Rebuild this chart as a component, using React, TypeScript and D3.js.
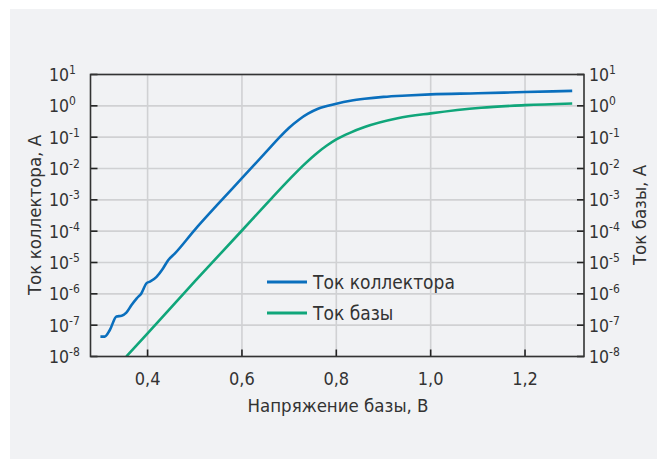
import React from "react";
import * as d3 from "d3";

// Base voltage (V) and collector current (A)
const collectorV = [0.300, 0.309, 0.320, 0.334, 0.345, 0.355, 0.366, 0.377, 0.387, 0.398, 0.405, 0.419, 0.433, 0.444, 0.458, 0.50, 0.55, 0.60, 0.66, 0.68, 0.70, 0.72, 0.74, 0.76, 0.78, 0.80, 0.83, 0.86, 0.90, 0.95, 1.0, 1.1, 1.2, 1.3];
const collectorI = [4.3e-8, 4.3e-8, 7e-8, 1.9e-7, 2.0e-7, 2.5e-7, 4.4e-7, 7.2e-7, 1.05e-6, 2.2e-6, 2.45e-6, 3.5e-6, 6.6e-6, 1.2e-5, 1.95e-5, 1.1e-4, 7.5e-4, 4.9e-3, 4.7e-2, 0.10, 0.20, 0.355, 0.56, 0.79, 0.98, 1.17, 1.45, 1.68, 1.93, 2.14, 2.32, 2.51, 2.75, 3.0];

// Base voltage (V) and base current (A)
const baseV = [0.355, 0.40, 0.50, 0.60, 0.65, 0.70, 0.73, 0.76, 0.78, 0.80, 0.83, 0.86, 0.93, 1.0, 1.107, 1.2, 1.3];
const baseI = [1.0e-8, 5.5e-8, 2.5e-6, 1.05e-4, 6.9e-4, 4.4e-3, 1.26e-2, 3.2e-2, 5.4e-2, 8.5e-2, 0.14, 0.21, 0.40, 0.575, 0.87, 1.05, 1.19];

const xTicks = [0.4, 0.6, 0.8, 1.0, 1.2];
const xTickLabels = ["0,4", "0,6", "0,8", "1,0", "1,2"];
const yExponents = [1, 0, -1, -2, -3, -4, -5, -6, -7, -8];

const seriesNames = ["Ток коллектора", "Ток базы"];
const xTitle = "Напряжение базы, В";
const yLeftTitle = "Ток коллектора, А";
const yRightTitle = "Ток базы, А";

const BLUE = "#0a6fbd";
const GREEN = "#10a67a";
const FONT = "'DejaVu Sans', sans-serif";
const COND = { fontStretch: "condensed" } as React.CSSProperties;

export default function App() {
  const W = 657, H = 459;
  const left = 90.5, right = 584, top = 74.5, bottom = 356.5;
  const x = d3.scaleLinear().domain([0.279, 1.325]).range([left, right]);
  const y = d3.scaleLog().domain([1e-8, 10]).range([bottom, top]);

  const line = d3
    .line<[number, number]>()
    .x((d) => x(d[0]))
    .y((d) => y(d[1]))
    .curve(d3.curveMonotoneX);

  const cData: [number, number][] = collectorV.map((v, i) => [v, collectorI[i]]);
  const bData: [number, number][] = baseV.map((v, i) => [v, baseI[i]]);

  const supLabel = (e: number, xx: number, yy: number, key: string) => (
    <text key={key} x={xx} y={yy} fontSize={17.5} fill="#333" fontFamily={FONT} style={COND}>
      10
      <tspan fontSize={12} dy={-7}>
        {e < 0 ? "-" + Math.abs(e) : String(e)}
      </tspan>
    </text>
  );

  return (
    <svg width={W} height={H} style={{ position: "absolute", left: 0, top: 0 }}>
      <defs>
        <clipPath id="plotclip">
          <rect x={left} y={top - 5} width={right - left} height={bottom - top + 5} />
        </clipPath>
      </defs>
      <rect x={10} y={9} width={647} height={450} fill="#f1f2f4" />
      {/* grid */}
      {xTicks.map((t) => (
        <line key={"gx" + t} x1={x(t)} x2={x(t)} y1={top} y2={bottom} stroke="#d0d1d3" strokeWidth={1.6} />
      ))}
      {yExponents.map((e) => (
        <line key={"gy" + e} x1={left} x2={right} y1={y(Math.pow(10, e))} y2={y(Math.pow(10, e))} stroke="#d0d1d3" strokeWidth={1.6} />
      ))}
      {/* ticks */}
      {yExponents.map((e) => (
        <g key={"t" + e}>
          <line x1={left} x2={left + 7} y1={y(Math.pow(10, e))} y2={y(Math.pow(10, e))} stroke="#222" strokeWidth={1.6} />
          <line x1={right - 7} x2={right} y1={y(Math.pow(10, e))} y2={y(Math.pow(10, e))} stroke="#222" strokeWidth={1.6} />
        </g>
      ))}
      {xTicks.map((t) => (
        <line key={"tx" + t} x1={x(t)} x2={x(t)} y1={bottom} y2={bottom - 7} stroke="#222" strokeWidth={1.6} />
      ))}
      {/* curves */}
      <g clipPath="url(#plotclip)">
        <path d={line(cData) || ""} fill="none" stroke={BLUE} strokeWidth={2.6} />
        <path d={line(bData) || ""} fill="none" stroke={GREEN} strokeWidth={2.6} />
      </g>
      {/* frame */}
      <rect x={left} y={top} width={right - left} height={bottom - top} fill="none" stroke="#333" strokeWidth={1.6} />
      {/* y labels */}
      {yExponents.map((e) => supLabel(e, 49, y(Math.pow(10, e)) + 6.5, "l" + e))}
      {yExponents.map((e) => supLabel(e, 589, y(Math.pow(10, e)) + 6.5, "r" + e))}
      {/* x labels */}
      {xTicks.map((t, i) => (
        <text key={"xl" + t} x={x(t)} y={385} textAnchor="middle" fontSize={18} fill="#333" fontFamily={FONT} style={COND}>
          {xTickLabels[i]}
        </text>
      ))}
      <text x={338} y={412} textAnchor="middle" fontSize={18.5} fill="#333" fontFamily={FONT} style={COND}>
        {xTitle}
      </text>
      <text transform={`translate(41,215) rotate(-90)`} textAnchor="middle" fontSize={18.5} fill="#333" fontFamily={FONT} style={COND}>
        {yLeftTitle}
      </text>
      <text transform={`translate(646,215) rotate(-90)`} textAnchor="middle" fontSize={18.5} fill="#333" fontFamily={FONT} style={COND}>
        {yRightTitle}
      </text>
      {/* legend */}
      <line x1={267} x2={307} y1={282} y2={282} stroke={BLUE} strokeWidth={3} />
      <text x={313} y={288.5} fontSize={19} fill="#333" fontFamily={FONT} style={COND}>
        {seriesNames[0]}
      </text>
      <line x1={267} x2={307} y1={313} y2={313} stroke={GREEN} strokeWidth={3} />
      <text x={313} y={319.5} fontSize={19} fill="#333" fontFamily={FONT} style={COND}>
        {seriesNames[1]}
      </text>
    </svg>
  );
}
